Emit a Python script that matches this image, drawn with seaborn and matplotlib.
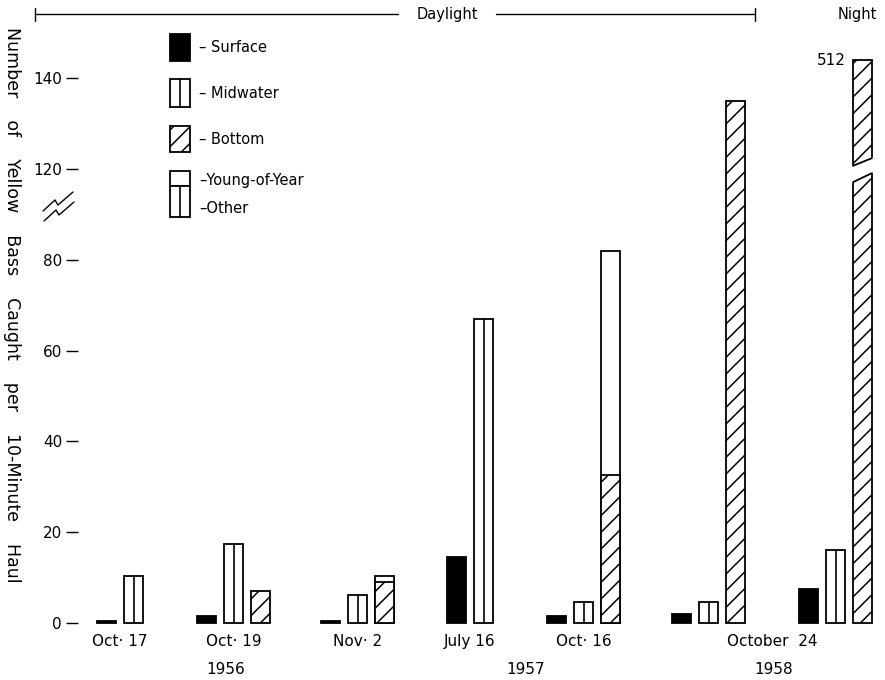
import numpy as np
import pandas as pd
import matplotlib
matplotlib.use("Agg")
import matplotlib.pyplot as plt
import seaborn as sns
from matplotlib.patches import Rectangle

# Yellow Bass caught per 10-minute haul
samples = ["Oct 17 1956", "Oct 19 1956", "Nov 2 1956", "July 16 1957",
           "Oct 16 1957", "Oct 24 1958 day", "Oct 24 1958 night"]
surface = [0.4, 1.5, 0.4, 14.5, 1.5, 2.0, 7.5]
midwater = [10.4, 17.5, 6.2, 67.0, 4.6, 4.6, 16.0]
bottom_other = [np.nan, 7.0, 9.0, np.nan, 32.5, 135.0, 512.0]
bottom_yoy = [np.nan, 0.0, 1.4, np.nan, 49.5, 0.0, 0.0]

date_labels = ["Oct· 17", "Oct· 19", "Nov· 2", "July 16", "Oct· 16", "October  24"]
year_labels = ["1956", "1957", "1958"]
ytick_values = [0, 20, 40, 60, 80, 120, 140]

# layout (x in pixels of the 885 px wide picture)
group_x = [106.5, 206.5, 330.5, 456.5, 556.5, 681.5, 808.5]
bar_step = 27
bar_w = 19
date_x = [120, 233.5, 357.5, 470, 583.5, 772]
year_x = [226, 526, 774]
zero_px = 623
px_per_unit = 4.54


def vy(px):
    # pixel row -> axis units
    return (zero_px - px) / px_per_unit


def shown(v):
    # axis skips 100-120, the 512 night haul is cut off at the top
    return v if v <= 90 else min(v - 20, 124)


rows = []
for i, s in enumerate(samples):
    x0 = group_x[i]
    rows.append((x0, surface[i], "Surface"))
    rows.append((x0 + bar_step, midwater[i], "Midwater"))
    if not np.isnan(bottom_other[i]):
        if bottom_yoy[i] > 0:
            rows.append((x0 + 2 * bar_step, bottom_other[i] + bottom_yoy[i], "Young-of-Year"))
        rows.append((x0 + 2 * bar_step, bottom_other[i], "Other"))
df = pd.DataFrame(rows, columns=["x", "count", "layer"])
df["height"] = df["count"].map(shown)

layers = ["Surface", "Midwater", "Young-of-Year", "Other"]
layer_colors = {"Surface": "black", "Midwater": "white", "Young-of-Year": "white", "Other": "white"}

sns.set_theme(style="white")
plt.rcParams["font.family"] = ["DejaVu Sans"]
plt.rcParams["text.color"] = "black"
plt.rcParams["xtick.color"] = "black"
plt.rcParams["ytick.color"] = "black"
plt.rcParams["hatch.linewidth"] = 1.1
plt.rcParams["hatch.color"] = "black"

fig = plt.figure(figsize=(8.85, 6.8), dpi=100)
ax = fig.add_axes([78 / 885, (680 - zero_px) / 680, (885 - 78) / 885, zero_px / 680])

sns.barplot(data=df, x="x", y="height", hue="layer", hue_order=layers,
            palette=layer_colors, dodge=False, native_scale=True, orient="x",
            width=bar_w / bar_step, errorbar=None, legend=False, saturation=1,
            edgecolor="black", linewidth=1.3, ax=ax)

surf_c, mid_c, yoy_c, oth_c = ax.containers
for p in oth_c:
    p.set_hatch("//")
for p in ax.patches:
    p.set_clip_on(False)
# midwater bars: one vertical line down the middle
for p in mid_c:
    cx = p.get_x() + p.get_width() / 2
    ax.plot([cx, cx], [0, p.get_height()], color="black", lw=1.2, clip_on=False)

# broken night bar (512)
tall = max(oth_c, key=lambda p: p.get_height())
bx, bw = tall.get_x(), tall.get_width()
ax.fill([bx - 2, bx + bw + 2, bx + bw + 2, bx - 2], [96.9, 99.3, 102.6, 100.5],
        color="white", zorder=5, clip_on=False)
ax.plot([bx, bx + bw], [97.1, 99.1], color="black", lw=1.3, zorder=6)
ax.plot([bx, bx + bw], [100.7, 102.4], color="black", lw=1.3, zorder=6)
ax.text(bx - 7, tall.get_height(), f"{int(np.nanmax(bottom_other))}",
        ha="right", va="center", fontsize=11)

# axes
ax.set_xlim(78, 885)
ax.set_ylim(0, zero_px / px_per_unit)
ax.set_yticks([shown(v) for v in ytick_values], [str(v) for v in ytick_values])
ax.set_xticks(date_x, date_labels)
ax.tick_params(axis="y", left=True, length=8.5, width=1.0, color="black", pad=3,
               labelsize=11, labelcolor="black")
ax.tick_params(axis="x", bottom=False, length=0, pad=8, labelsize=11, labelcolor="black")
ax.set_xlabel("")
ax.set_ylabel("")
sns.despine(ax=ax, left=True, bottom=True)

for x, yr in zip(year_x, year_labels):
    ax.text(x, vy(670), yr, ha="center", va="center", fontsize=11)

# y axis break mark
for dx, dy in [(0, 0), (1, 10)]:
    zx = np.array([43, 55, 58, 73]) + dx
    zy = np.array([211, 200, 205, 192]) + dy
    ax.plot(zx, vy(zy), color="black", lw=1.0, clip_on=False)

# daylight / night header
ytop = vy(14)
ax.plot([35, 398], [ytop, ytop], color="black", lw=1.0, clip_on=False)
ax.plot([496, 755], [ytop, ytop], color="black", lw=1.0, clip_on=False)
for ex in [35, 755]:
    ax.plot([ex, ex], [vy(8), vy(21)], color="black", lw=1.0, clip_on=False)
ax.text(447, ytop, "Daylight", ha="center", va="center", fontsize=10.5)
ax.text(857, ytop, "Night", ha="center", va="center", fontsize=10.5)

# legend drawn by hand to match the original key
key = [("– Surface", 34, 61, 48, "black", None, False),
       ("– Midwater", 79, 107, 93, "white", None, True),
       ("– Bottom", 126, 152, 140, "white", "//", False),
       ("–Young-of-Year", 171, 186, 181, "white", None, False),
       ("–Other", 186, 217, 209, "white", None, True)]
for label, top, bot, text_px, fc, hatch, mid in key:
    r = Rectangle((170, vy(bot)), 20, vy(top) - vy(bot), facecolor=fc, edgecolor="black",
                  hatch=hatch, lw=1.3, clip_on=False)
    ax.add_patch(r)
    if mid:
        ax.plot([180, 180], [vy(bot), vy(top)], color="black", lw=1.2)
    ax.text(199, vy(text_px), label, ha="left", va="center", fontsize=10.5)

fig.text(12 / 885, 1 - 305 / 680,
         "Number    of    Yellow    Bass    Caught    per    10-Minute    Haul",
         rotation=-90, ha="center", va="center", fontsize=12.5)

fig.savefig("out.png", dpi=100)
